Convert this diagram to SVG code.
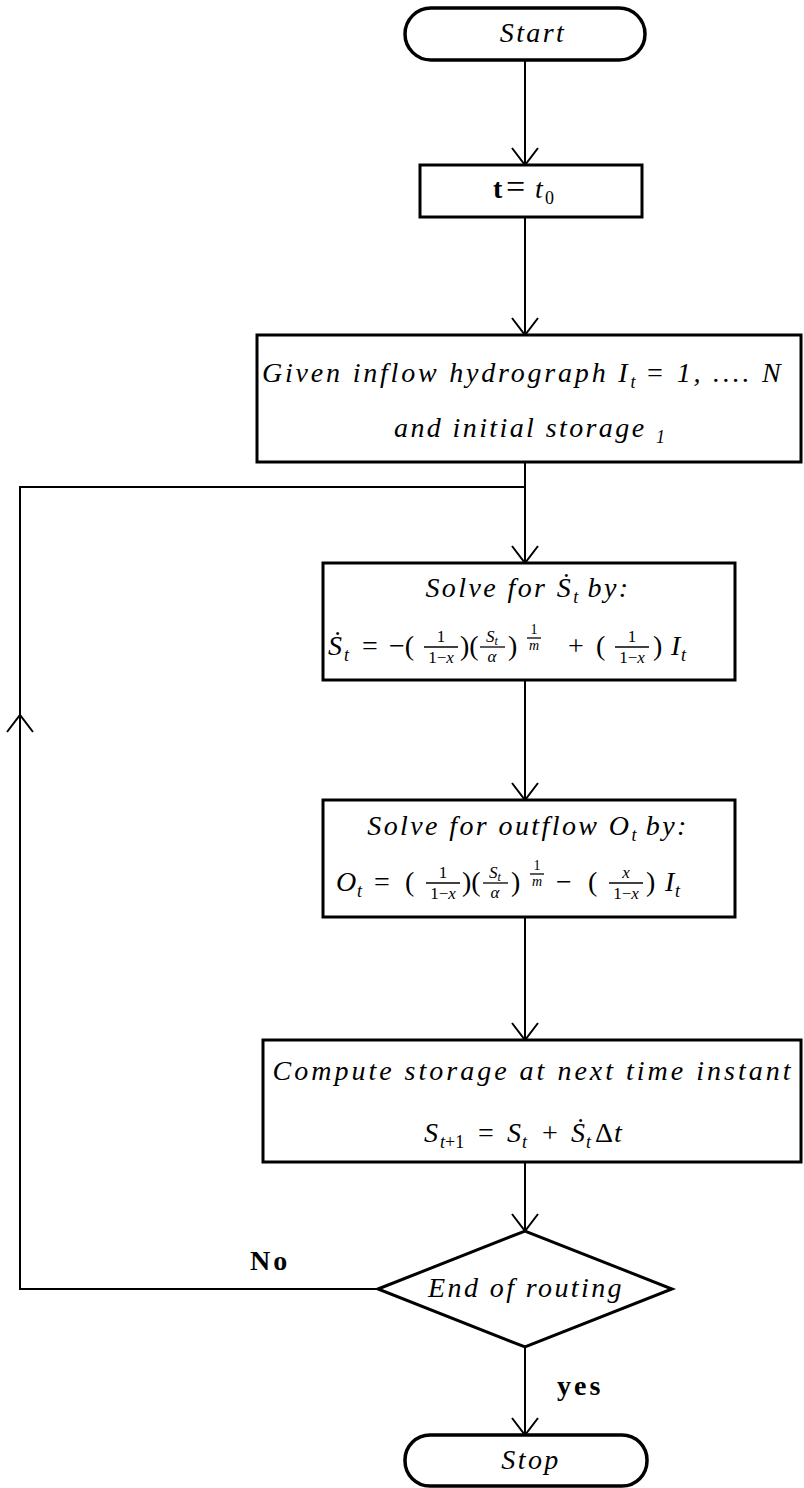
<svg xmlns="http://www.w3.org/2000/svg" width="804" height="1488" viewBox="0 0 804 1488">
<style>
.bx{fill:#fff;stroke:#000;stroke-width:3}
.tm{fill:#fff;stroke:#000;stroke-width:3.5}
.cn{fill:none;stroke:#000;stroke-width:2}
.fb{stroke:#000;stroke-width:1.3}
.t{font-family:"Liberation Serif","DejaVu Serif",serif;font-size:28px;font-style:italic;letter-spacing:2.4px;fill:#000}
.m{font-family:"Liberation Serif","DejaVu Serif",serif;font-size:28px;fill:#000}
.lb{font-family:"Liberation Serif","DejaVu Serif",serif;font-size:28px;font-weight:bold;letter-spacing:3px;fill:#000}
.mi{font-style:italic}
.s18{font-size:18px;letter-spacing:0}
.f{font-size:17px}
.e{font-size:14px}
.c{text-anchor:middle}
.b{font-weight:bold}
</style>
<defs>
<marker id="ah" viewBox="0 0 22 28" refX="20" refY="14" markerWidth="22" markerHeight="28" markerUnits="userSpaceOnUse" orient="auto"><path d="M3,1 L20,14 L3,27" fill="none" stroke="#000" stroke-width="2"/></marker>
</defs>
<rect width="804" height="1488" fill="#fff"/>
<g id="connectors">
<path class="cn" d="M525,60 V165" marker-end="url(#ah)"/>
<path class="cn" d="M525,217 V335" marker-end="url(#ah)"/>
<path class="cn" d="M525,462 V563" marker-end="url(#ah)"/>
<path class="cn" d="M525,680 V800" marker-end="url(#ah)"/>
<path class="cn" d="M525,917 V1040" marker-end="url(#ah)"/>
<path class="cn" d="M525,1162 V1231" marker-end="url(#ah)"/>
<path class="cn" d="M525,1347 V1435" marker-end="url(#ah)"/>
<path class="cn" d="M378,1289 H20 V715" marker-end="url(#ah)"/>
<path class="cn" d="M20,717 V487 H525"/>
</g>
<g id="node-start">
<rect class="tm" x="405" y="8" width="240" height="52" rx="26"/>
<text class="t c" x="533" y="42">Start</text>
</g>
<g id="node-init">
<rect class="bx" x="420" y="165" width="222" height="52"/>
<text class="m" y="198"><tspan x="493" class="b">t</tspan><tspan x="506" font-size="34">=</tspan><tspan x="535" class="mi">t</tspan><tspan x="545" dy="6" class="s18">0</tspan></text>
</g>
<g id="node-given">
<rect class="bx" x="257" y="335" width="544" height="127"/>
<text class="t" x="262" y="382" style="letter-spacing:2.8px">Given inflow hydrograph I<tspan class="s18" dy="6">t</tspan><tspan dy="-6"> = 1, .... N</tspan></text>
<text class="t" x="394" y="437">and initial storage <tspan class="s18" dy="6">1</tspan></text>
</g>
<g id="node-solve-s">
<rect class="bx" x="323" y="563" width="412" height="117"/>
<text class="t c" x="528" y="597">Solve for Ṡ<tspan class="s18" dy="6">t</tspan><tspan dy="-6"> by:</tspan></text>
<text class="m" y="655"><tspan x="328" class="mi">Ṡ</tspan><tspan x="344" dy="6" class="mi s18">t</tspan><tspan x="362" dy="-6">=</tspan><tspan x="389">−(</tspan><tspan x="460">)(</tspan><tspan x="508">)</tspan><tspan x="568">+</tspan><tspan x="596">(</tspan><tspan x="653">)</tspan><tspan x="671" class="mi">I</tspan><tspan x="681" dy="6" class="mi s18">t</tspan></text>
<text class="m f c" x="441" y="642">1</text><line class="fb" x1="424" y1="647" x2="458" y2="647"/><text class="m f c" x="441" y="663">1−<tspan class="mi">x</tspan></text>
<text class="m f c mi" x="492" y="642">S<tspan font-size="12px" dy="3">t</tspan></text><line class="fb" x1="480" y1="647" x2="505" y2="647"/><text class="m f c mi" x="492" y="662">α</text>
<text class="m e c" x="534" y="634">1</text><line class="fb" x1="527" y1="638" x2="541" y2="638"/><text class="m e c mi" x="534" y="650">m</text>
<text class="m f c" x="632" y="642">1</text><line class="fb" x1="615" y1="647" x2="649" y2="647"/><text class="m f c" x="632" y="663">1−<tspan class="mi">x</tspan></text>
</g>
<g id="node-solve-o">
<rect class="bx" x="323" y="800" width="412" height="117"/>
<text class="t c" x="528" y="835">Solve for outflow O<tspan class="s18" dy="6">t</tspan><tspan dy="-6"> by:</tspan></text>
<text class="m" y="891"><tspan x="336" class="mi">O</tspan><tspan x="357" dy="6" class="mi s18">t</tspan><tspan x="374" dy="-6">=</tspan><tspan x="405">(</tspan><tspan x="462">)(</tspan><tspan x="511">)</tspan><tspan x="556">−</tspan><tspan x="588">(</tspan><tspan x="646">)</tspan><tspan x="665" class="mi">I</tspan><tspan x="675" dy="6" class="mi s18">t</tspan></text>
<text class="m f c" x="443" y="878">1</text><line class="fb" x1="426" y1="883" x2="460" y2="883"/><text class="m f c" x="443" y="899">1−<tspan class="mi">x</tspan></text>
<text class="m f c mi" x="495" y="878">S<tspan font-size="12px" dy="3">t</tspan></text><line class="fb" x1="483" y1="883" x2="508" y2="883"/><text class="m f c mi" x="495" y="898">α</text>
<text class="m e c" x="537" y="870">1</text><line class="fb" x1="530" y1="874" x2="544" y2="874"/><text class="m e c mi" x="537" y="886">m</text>
<text class="m f c mi" x="626" y="878">x</text><line class="fb" x1="609" y1="883" x2="643" y2="883"/><text class="m f c" x="626" y="899">1−<tspan class="mi">x</tspan></text>
</g>
<g id="node-compute">
<rect class="bx" x="263" y="1040" width="538" height="122"/>
<text class="t c" x="533" y="1080" style="letter-spacing:3px">Compute storage at next time instant</text>
<text class="m" y="1142"><tspan x="424" class="mi">S</tspan><tspan x="440" dy="6" class="s18"><tspan class="mi">t</tspan>+1</tspan><tspan x="478" dy="-6">=</tspan><tspan x="507" class="mi">S</tspan><tspan x="522" dy="6" class="mi s18">t</tspan><tspan x="542" dy="-6">+</tspan><tspan x="571" class="mi">Ṡ</tspan><tspan x="586" dy="6" class="mi s18">t</tspan><tspan x="595" dy="-6">Δ</tspan><tspan x="614" class="mi">t</tspan></text>
</g>
<g id="node-decision">
<polygon class="bx" points="378,1289 525,1231 672,1289 525,1347"/>
<text class="t c" x="526" y="1297">End of routing</text>
</g>
<g id="node-stop">
<rect class="tm" x="405" y="1435" width="242" height="51" rx="25"/>
<text class="t c" x="531" y="1469">Stop</text>
</g>
<g id="labels">
<text class="lb" x="250" y="1270">No</text>
<text class="lb" x="557" y="1395">yes</text>
</g>
</svg>
